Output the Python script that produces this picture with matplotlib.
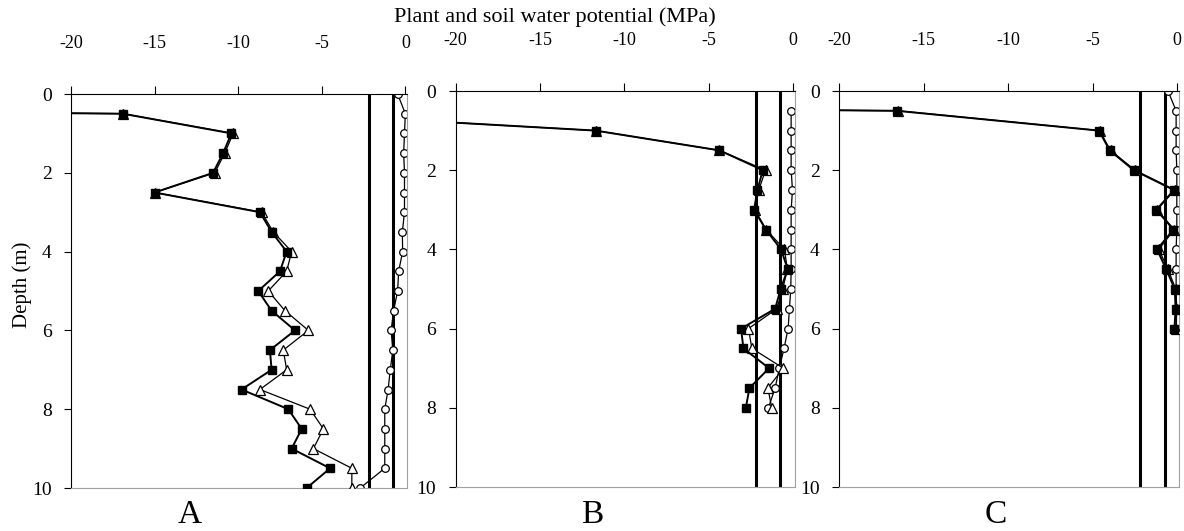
import matplotlib.pyplot as plt

# Depth (m) of each measurement
depth = [0, 0.5, 1, 1.5, 2, 2.5, 3, 3.5, 4, 4.5, 5, 5.5, 6, 6.5, 7, 7.5, 8, 8.5, 9, 9.5, 10]

# Panel A - water potential (MPa)
a_square = [-150, -16.9, -10.4, -10.9, -11.5, -15.0, -8.7, -8.0, -7.1, -7.5, -8.8, -8.0,
            -6.6, -8.1, -8.0, -9.8, -7.0, -6.2, -6.8, -4.5, -5.9]
a_triangle = [-150, -16.9, -10.3, -10.8, -11.4, -15.0, -8.6, -7.9, -6.8, -7.1, -8.2, -7.2,
              -5.8, -7.3, -7.1, -8.7, -5.7, -4.9, -5.5, -3.2, -3.2]
a_circle = [-0.46, 0.0, -0.05, -0.1, -0.05, -0.05, -0.05, -0.18, -0.16, -0.4, -0.46, -0.7,
            -0.85, -0.75, -0.9, -1.03, -1.23, -1.23, -1.23, -1.23, -2.7]

# Panel B
b_depth = [0.5, 1, 1.5, 2, 2.5, 3, 3.5, 4, 4.5, 5, 5.5, 6, 6.5, 7, 7.5, 8]
b_square = [-32.5, -11.7, -4.35, -1.78, -2.1, -2.3, -1.6, -0.7, -0.3, -0.72, -1.05,
            -3.07, -2.93, -1.41, -2.57, -2.79]
b_triangle = [-32.5, -11.7, -4.35, -1.62, -2.02, -2.25, -1.58, -0.5, -0.32, -0.6, -0.95,
              -2.63, -2.43, -0.56, -1.48, -1.25]
b_circle = [-0.1, -0.1, -0.1, -0.1, -0.02, -0.1, -0.1, -0.1, -0.1, -0.12, -0.2,
            -0.28, -0.52, -0.8, -1.05, -1.45]

# Panel C
c_sq_depth = [0, 0.5, 1, 1.5, 2, 2.5, 3, 3.5, 4, 4.5, 5, 5.5, 6]
c_square = [-150, -16.6, -4.64, -4.0, -2.58, -0.2, -1.24, -0.23, -1.2, -0.66, -0.15, -0.1, -0.17]
c_triangle = [-150, -16.5, -4.6, -3.95, -2.5, -0.15, -1.2, -0.18, -1.1, -0.55, -0.1, -0.02, -0.1]
c_circle = [-0.55, -0.07, -0.07, -0.07, -0.03, -0.03, -0.03, -0.03, -0.07, -0.07, -0.07, -0.05, -0.05]

# Reference lines (MPa)
ref_lines = [-2.2, -0.75]

panel_letters = ['A', 'B', 'C']
letter_x = [190, 592, 996]

plt.rcParams['font.family'] = ['Liberation Serif', 'DejaVu Serif']

W, H = 1184, 531
fig = plt.figure(figsize=(W / 100, H / 100), dpi=100)

# axes boxes in pixels: left, right, top, bottom
boxes = [(71, 407, 94, 488), (455.7, 794.5, 91, 487), (839.3, 1179, 91, 487)]

panels = [
    (depth, a_square, depth, a_triangle, depth, a_circle),
    (b_depth, b_square, b_depth, b_triangle, b_depth, b_circle),
    (c_sq_depth, c_square, c_sq_depth, c_triangle, c_sq_depth, c_circle),
]

for i, (box, data) in enumerate(zip(boxes, panels)):
    l, r, t, b = box
    ax = fig.add_axes([l / W, 1 - b / H, (r - l) / W, (b - t) / H])
    sd, sq, td, tr, cd, ci = data

    for v in ref_lines:
        ax.axvline(v, color='black', lw=2.2, zorder=1)

    ax.plot(ci, cd, marker='o', ms=5.5, mfc='white', mec='black', mew=0.9,
            color='black', lw=0.9, zorder=2)
    ax.plot(tr, td, marker='^', ms=6.5, mfc='white', mec='black', mew=0.9,
            color='black', lw=0.9, zorder=3)
    ax.plot(sq, sd, marker='s', ms=6, mfc='black', mec='black',
            color='black', lw=1.4, zorder=4)

    ax.set_xlim(-20, 0.1)
    ax.set_ylim(10, 0)
    ax.set_xticks([-20, -15, -10, -5, 0])
    ax.set_xticklabels(['-20', '-15', '-10', '-5', '0'])
    ax.set_yticks([0, 2, 4, 6, 8, 10])
    ax.xaxis.tick_top()
    ax.tick_params(axis='x', direction='out', length=6, width=0.8, pad=24, labelsize=13)
    ax.tick_params(axis='y', direction='out', length=5, width=0.8, pad=9, labelsize=14)
    ax.spines['right'].set_color('#a0a0a0')
    ax.spines['bottom'].set_color('#a0a0a0')

    fig.text(letter_x[i] / W, 1 - 515 / H, panel_letters[i], fontsize=24,
             ha='center', va='center')

fig.text(22 / W, 1 - 285 / H, 'Depth (m)', fontsize=15, rotation=90,
         ha='center', va='center')
fig.text(555 / W, 1 - 17 / H, 'Plant and soil water potential (MPa)',
         fontsize=16, ha='center', va='center')

plt.savefig('out.png', dpi=100)
